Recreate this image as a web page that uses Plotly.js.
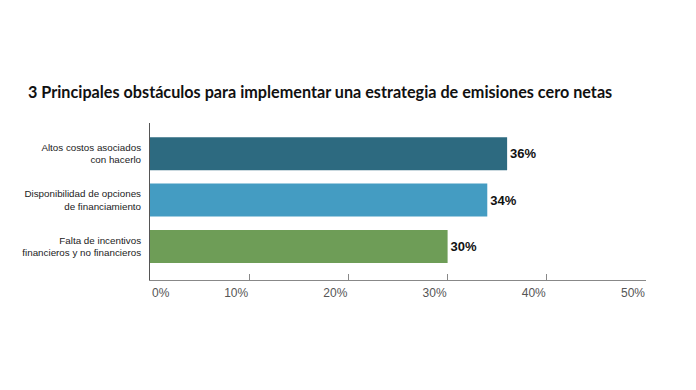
<!DOCTYPE html>
<html>
<head>
<meta charset="utf-8">
<script src="https://cdn.plot.ly/plotly-3.0.1.min.js"></script>
<style>html,body{margin:0;padding:0;background:#fff;}#chart{width:696px;height:390px;}</style>
</head>
<body>
<div id="chart"></div>
<script>
const categories = [
  "Altos costos asociados<br>con hacerlo",
  "Disponibilidad de opciones<br>de financiamiento",
  "Falta de incentivos<br>financieros y no financieros"
];
const values = [36, 34, 30];
const valueLabels = ["36%", "34%", "30%"];
const barColors = ["#2d6a80", "#449cc2", "#6e9d57"];
const tickVals = [0, 10, 20, 30, 40, 50];
const tickLabels = ["0%", "10%", "20%", "30%", "40%", "50%"];
const chartTitle = "3 Principales obstáculos para implementar una estrategia de emisiones cero netas";

const tickFont = {family: "Liberation Sans, Arial, sans-serif", size: 12, color: "#555"};

const trace = {
  type: "bar",
  orientation: "h",
  y: categories,
  x: values,
  text: valueLabels,
  textposition: "outside",
  textfont: {family: "Liberation Sans, Arial, sans-serif", size: 13, color: "#111", weight: "bold"},
  marker: {color: barColors, line: {width: 0}},
  cliponaxis: false,
  hoverinfo: "skip"
};

// first tick label sits to the right of its tick in the reference
const shownTickText = tickLabels.map((t, i) => i === 0 ? "" : t);

const layout = {
  width: 696, height: 390,
  margin: {l: 150, r: 50, t: 123, b: 110},
  paper_bgcolor: "#fff", plot_bgcolor: "#fff",
  showlegend: false,
  bargap: 0.29,
  title: {
    text: "<b>" + chartTitle + "</b>",
    font: {family: "Lato, Noto Sans, sans-serif", size: 16.2, color: "#111"},
    x: 28/696, xanchor: "left", xref: "container",
    y: 1 - 92/390, yanchor: "middle", yref: "container"
  },
  xaxis: {
    range: [0, 50],
    tickvals: tickVals, ticktext: shownTickText,
    ticks: "inside", ticklen: 6, tickcolor: "#888", tickwidth: 1,
    ticklabelposition: "outside left",
    ticklabelstandoff: 2,
    showgrid: false, zeroline: false,
    showline: true, linecolor: "#888", linewidth: 1,
    tickfont: tickFont,
    fixedrange: true
  },
  yaxis: {
    range: [2.72, -0.66],
    showgrid: false, zeroline: false,
    showline: true, linecolor: "#555", linewidth: 1,
    ticks: "", ticklabelstandoff: 6,
    tickfont: {family: "Liberation Sans, Arial, sans-serif", size: 9.8, color: "#222"},
    fixedrange: true
  },
  annotations: [{
    x: tickVals[0], xref: "x", xanchor: "left",
    y: 0, yref: "paper", yanchor: "top", yshift: -4,
    text: tickLabels[0], showarrow: false,
    font: tickFont
  }]
};

Plotly.newPlot("chart", [trace], layout, {displayModeBar: false, staticPlot: true});
</script>
</body>
</html>
